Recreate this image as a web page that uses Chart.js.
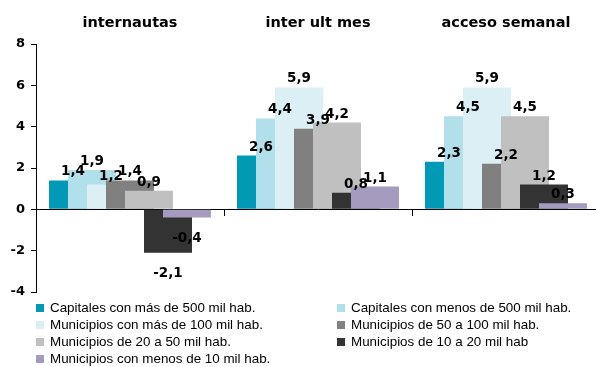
<!DOCTYPE html>
<html>
<head>
<meta charset="utf-8">
<script src="https://cdn.jsdelivr.net/npm/chart.js@4.4.1/dist/chart.umd.min.js"></script>
<style>
  html, body { margin: 0; padding: 0; background: #fff; overflow: hidden; }
  #wrap { position: relative; width: 600px; height: 367px; }
  #legend { position: absolute; left: 0; top: 0; width: 600px; height: 367px; pointer-events: none;
            font-family: "Liberation Sans", Arial, sans-serif; font-size: 13.4px; color: #000; }
  .item { position: absolute; white-space: nowrap; line-height: 16px; height: 16px; }
  .sw { position: absolute; left: 0; top: 4px; width: 8px; height: 8px; }
  .tx { position: absolute; left: 14px; top: 0; }
</style>
</head>
<body>
<div id="wrap">
  <canvas id="chart" width="600" height="367"></canvas>
  <div id="legend"></div>
</div>
<script>
// Indicator groups shown along the top
const groups = ['internautas', 'inter ult mes', 'acceso semanal'];

// Municipality size classes
const seriesNames = [
  'Capitales con más de 500 mil hab.',
  'Capitales con menos de 500 mil hab.',
  'Municipios con más de 100 mil hab.',
  'Municipios de 50 a 100 mil hab.',
  'Municipios de 20 a 50 mil hab.',
  'Municipios de 10 a 20 mil hab',
  'Municipios con menos de 10 mil hab.'
];

// Values per size class, one entry per indicator group
const capMas500   = [1.4, 2.6, 2.3];
const capMenos500 = [1.9, 4.4, 4.5];
const munMas100   = [1.2, 5.9, 5.9];
const mun50a100   = [1.4, 3.9, 2.2];
const mun20a50    = [0.9, 4.2, 4.5];
const mun10a20    = [-2.1, 0.8, 1.2];
const munMenos10  = [-0.4, 1.1, 0.3];

const yTicks = [-4, -2, 0, 2, 4, 6, 8];

const seriesValues = [capMas500, capMenos500, munMas100, mun50a100, mun20a50, mun10a20, munMenos10];
const seriesColors = ['#0099B6', '#B1DFEA', '#DBEFF5', '#808080', '#C0C0C0', '#333333', '#A59BBE'];

const fmt = v => v.toFixed(1).replace('.', ',');

// Bars overlap each other; later series are painted over earlier ones.
const paintInSeriesOrder = {
  id: 'paintInSeriesOrder',
  beforeDatasetsDraw(chart) {
    const ctx = chart.ctx;
    const area = chart.chartArea;
    const metas = chart.getSortedVisibleDatasetMetas();
    ctx.save();
    ctx.beginPath();
    ctx.rect(area.left, area.top - 20, area.right - area.left, area.bottom - area.top + 40);
    ctx.clip();
    metas.forEach(m => m.controller.draw());
    ctx.restore();

    // value labels
    ctx.save();
    ctx.font = 'bold 13.5px "DejaVu Sans", Verdana, sans-serif';
    ctx.fillStyle = '#000';
    ctx.textAlign = 'center';
    ctx.textBaseline = 'alphabetic';
    metas.forEach(m => {
      const vals = seriesValues[m.index];
      m.data.forEach((el, j) => {
        const v = vals[j];
        const y = v >= 0 ? el.y - 5 : el.y + 24;
        ctx.fillText(fmt(v), el.x, y);
      });
    });
    ctx.restore();
    return false;
  }
};

const ctx = document.getElementById('chart').getContext('2d');
new Chart(ctx, {
  type: 'bar',
  data: {
    labels: groups,
    datasets: seriesNames.map((name, i) => ({
      label: name,
      data: seriesValues[i],
      backgroundColor: seriesColors[i],
      borderWidth: 0,
      categoryPercentage: 0.7074,
      barPercentage: 2.526
    }))
  },
  options: {
    responsive: false,
    animation: false,
    devicePixelRatio: 1,
    layout: { padding: { top: 0, left: 0, right: 0, bottom: 75 } },
    plugins: {
      legend: { display: false },
      tooltip: { enabled: false },
      title: { display: false }
    },
    scales: {
      x: {
        type: 'category',
        position: { y: 0 },
        z: 1,
        ticks: { display: false },
        grid: { offset: true, drawOnChartArea: false, drawTicks: true, tickLength: 6, color: '#000', lineWidth: 1 },
        border: { display: true, color: '#000', width: 1 }
      },
      x2: {
        type: 'category',
        position: 'top',
        labels: groups,
        grid: { display: false },
        border: { display: false },
        ticks: {
          color: '#000',
          padding: 4,
          maxRotation: 0,
          font: { family: '"DejaVu Sans", Verdana, sans-serif', size: 14.5, weight: 'bold' }
        },
        afterFit: s => { s.height = 44; }
      },
      y: {
        min: -4,
        max: 8,
        afterBuildTicks: s => { s.ticks = yTicks.map(v => ({ value: v })); },
        ticks: {
          color: '#000',
          padding: 6,
          font: { family: '"DejaVu Sans", Verdana, sans-serif', size: 13, weight: 'bold' },
          callback: v => String(v)
        },
        grid: { drawOnChartArea: false, drawTicks: true, tickLength: 5, color: '#000' },
        border: { display: true, color: '#000', width: 1 },
        afterFit: s => { s.width = 36; }
      }
    }
  },
  plugins: [paintInSeriesOrder]
});

// Two-column legend
const legend = document.getElementById('legend');
const colX = [36, 337];
const rowY = [300, 317, 334, 351];
seriesNames.forEach((name, i) => {
  const item = document.createElement('div');
  item.className = 'item';
  item.style.left = colX[i % 2] + 'px';
  item.style.top = rowY[Math.floor(i / 2)] + 'px';
  const sw = document.createElement('span');
  sw.className = 'sw';
  sw.style.background = seriesColors[i];
  const tx = document.createElement('span');
  tx.className = 'tx';
  tx.textContent = name;
  item.appendChild(sw);
  item.appendChild(tx);
  legend.appendChild(item);
});
</script>
</body>
</html>
